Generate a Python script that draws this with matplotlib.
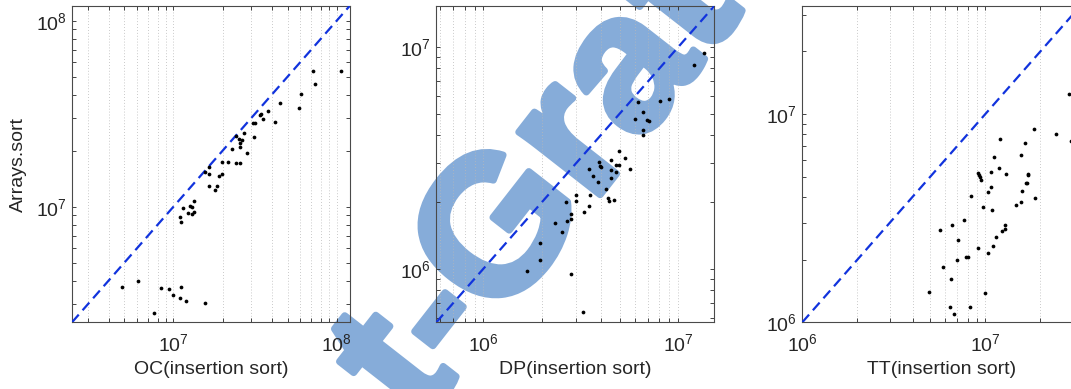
import matplotlib
matplotlib.use('Agg')
import matplotlib.pyplot as plt
import matplotlib.patheffects as pe
from matplotlib.ticker import LogLocator, NullFormatter, LogFormatterSciNotation

plt.rcParams['font.family'] = ['Liberation Sans', 'DejaVu Sans']
plt.rcParams['mathtext.fontset'] = 'custom'
plt.rcParams['mathtext.rm'] = 'Liberation Sans'
plt.rcParams['mathtext.it'] = 'Liberation Sans:italic'

# ---------------- data ----------------
oc_x = [4.87e6, 6.05e6, 7.55e6, 8.36e6, 9.4e6, 1.0e7, 1.09e7, 1.11e7, 1.20e7, 1.57e7,
        1.10e7, 1.12e7, 1.15e7, 1.22e7, 1.26e7, 1.29e7, 1.30e7, 1.33e7, 1.34e7,
        1.55e7, 1.65e7, 1.65e7, 1.66e7, 1.79e7, 1.86e7, 1.90e7, 1.99e7, 1.98e7, 2.16e7,
        2.29e7, 2.41e7, 2.57e7, 2.42e7, 2.51e7, 2.57e7, 2.56e7, 2.63e7, 2.70e7, 2.81e7,
        3.09e7, 3.16e7, 3.12e7, 3.40e7, 3.45e7, 3.53e7, 3.82e7, 4.19e7, 4.48e7, 5.88e7,
        6.05e7, 7.13e7, 7.37e7, 1.07e8]
oc_y = [3.72e6, 3.97e6, 2.67e6, 3.65e6, 3.62e6, 3.35e6, 3.21e6, 3.72e6, 3.13e6, 3.03e6,
        8.8e6, 8.24e6, 9.8e6, 9.25e6, 1.01e7, 9.96e6, 9.14e6, 9.33e6, 1.07e7,
        1.54e7, 1.64e7, 1.50e7, 1.29e7, 1.23e7, 1.30e7, 1.46e7, 1.49e7, 1.74e7, 1.75e7,
        2.04e7, 1.72e7, 1.72e7, 2.39e7, 2.31e7, 2.20e7, 2.09e7, 2.28e7, 2.49e7, 1.95e7,
        2.81e7, 2.81e7, 2.36e7, 3.10e7, 3.14e7, 2.95e7, 3.27e7, 2.84e7, 3.62e7, 3.41e7,
        4.05e7, 5.35e7, 4.55e7, 5.35e7]

dp_x = [1.68e6, 1.96e6, 1.96e6, 2.34e6, 2.52e6, 2.66e6, 2.68e6, 2.82e6, 2.82e6, 2.82e6,
        2.97e6, 2.99e6, 3.25e6, 3.30e6, 3.48e6, 3.53e6, 3.48e6, 3.63e6, 3.89e6, 3.93e6,
        3.96e6, 4.02e6, 4.25e6, 4.37e6, 4.43e6, 4.52e6, 4.52e6, 4.52e6, 4.70e6, 4.80e6,
        4.80e6, 4.99e6, 4.99e6, 5.31e6, 5.66e6, 6.03e6, 6.19e6, 6.57e6, 6.59e6, 6.59e6,
        6.92e6, 7.11e6, 8.10e6, 9.0e6, 1.20e7, 1.35e7]
dp_y = [9.76e5, 1.09e6, 1.31e6, 1.61e6, 1.47e6, 2.00e6, 1.64e6, 1.68e6, 1.76e6, 9.5e5,
        2.01e6, 2.15e6, 6.38e5, 1.80e6, 1.91e6, 2.14e6, 2.83e6, 2.61e6, 2.46e6, 3.04e6,
        2.90e6, 2.88e6, 2.28e6, 2.09e6, 2.01e6, 3.10e6, 2.78e6, 2.56e6, 2.03e6, 2.94e6,
        2.74e6, 3.41e6, 2.92e6, 3.17e6, 2.83e6, 4.75e6, 5.65e6, 5.09e6, 4.20e6, 4.01e6,
        4.67e6, 4.63e6, 5.70e6, 5.85e6, 8.26e6, 9.42e6]

tt_x = [4.92e6, 5.68e6, 5.84e6, 6.43e6, 6.73e6, 6.49e6, 6.57e6, 7.00e6, 7.06e6, 7.68e6,
        7.87e6, 8.07e6, 8.20e6, 8.31e6, 9.08e6, 9.12e6, 9.27e6, 9.35e6, 9.51e6, 9.75e6,
        1.00e7, 1.03e7, 1.04e7, 1.07e7, 1.08e7, 1.09e7, 1.10e7, 1.11e7, 1.15e7, 1.18e7,
        1.20e7, 1.24e7, 1.28e7, 1.28e7, 1.30e7, 1.47e7, 1.56e7, 1.57e7, 1.59e7, 1.64e7,
        1.66e7, 1.68e7, 1.72e7, 1.72e7, 1.85e7, 1.87e7, 2.44e7, 2.87e7, 2.92e7]
tt_y = [1.40e6, 2.76e6, 1.85e6, 1.18e6, 1.10e6, 1.62e6, 2.93e6, 2.00e6, 2.49e6, 3.11e6,
        2.06e6, 2.06e6, 1.19e6, 4.02e6, 2.27e6, 5.20e6, 5.10e6, 5.00e6, 4.82e6, 3.56e6,
        1.39e6, 4.20e6, 2.15e6, 5.28e6, 4.45e6, 3.47e6, 2.32e6, 6.21e6, 2.58e6, 5.52e6,
        7.61e6, 2.73e6, 2.80e6, 2.93e6, 5.15e6, 3.66e6, 6.35e6, 3.80e6, 4.25e6, 7.26e6,
        4.65e6, 4.68e6, 5.07e6, 5.13e6, 8.47e6, 3.97e6, 8.04e6, 1.25e7, 7.46e6]

x_labels = ['OC(insertion sort)', 'DP(insertion sort)', 'TT(insertion sort)']
y_label = 'Arrays.sort'
limits = [(2.39e6, 1.2e8), (5.73e5, 1.53e7), (1.0e6, 3.3e7)]
watermark = 't-Grat'

# ---------------- figure ----------------
W, H = 1071, 389
fig = plt.figure(figsize=(W / 100, H / 100), dpi=100)
fig.patch.set_facecolor('white')

lefts = [72.0, 436.3, 802.3]
widths = [277.6, 278.0, 278.0]
bottom_px, top_px = 322.3, 6.0

txt_color = '#262626'
series = [(oc_x, oc_y), (dp_x, dp_y), (tt_x, tt_y)]

for i, ((xs, ys), lim, xl) in enumerate(zip(series, limits, x_labels)):
    ax = fig.add_axes([lefts[i] / W, (H - bottom_px) / H, widths[i] / W,
                       (bottom_px - top_px) / H])
    ax.set_facecolor('none')
    ax.set_xscale('log')
    ax.set_yscale('log')
    ax.plot(lim, lim, linestyle=(0, (4.6, 2.6)), color='#1133dd', lw=1.6,
            zorder=3)
    ax.plot(xs, ys, 'o', ms=2.7, color='black', mec='none', zorder=4)
    ax.set_xlim(lim)
    ax.set_ylim(lim)
    for axis in (ax.xaxis, ax.yaxis):
        axis.set_major_locator(LogLocator(base=10))
        axis.set_minor_locator(LogLocator(base=10, subs=range(2, 10)))
        axis.set_minor_formatter(NullFormatter())
        axis.set_major_formatter(LogFormatterSciNotation())
    ax.grid(True, which='both', axis='x', linestyle=(0, (1, 2.5)),
            color='#b8b8b8', lw=0.6)
    ax.tick_params(which='both', direction='in', top=True, right=True,
                   colors=txt_color, labelsize=14, width=0.6)
    ax.tick_params(which='major', length=3.2)
    ax.tick_params(which='minor', length=2.6)
    ax.tick_params(axis='x', pad=8)
    ax.tick_params(axis='y', pad=4)
    for s in ax.spines.values():
        s.set_color('#4a4a4a')
        s.set_linewidth(0.8)
    ax.set_xlabel(xl, fontsize=14, color=txt_color, labelpad=4)
    if i == 0:
        ax.set_ylabel(y_label, fontsize=14, color=txt_color, labelpad=6)

wm_color = '#86acd9'
fig.text(582 / W, 1 - 218 / H, watermark, fontsize=140, fontweight='bold',
         color=wm_color, rotation=52, rotation_mode='anchor',
         ha='center', va='baseline', zorder=-1,
         path_effects=[pe.withStroke(linewidth=5, foreground=wm_color)])

fig.savefig('out.png', dpi=100, facecolor='white')
